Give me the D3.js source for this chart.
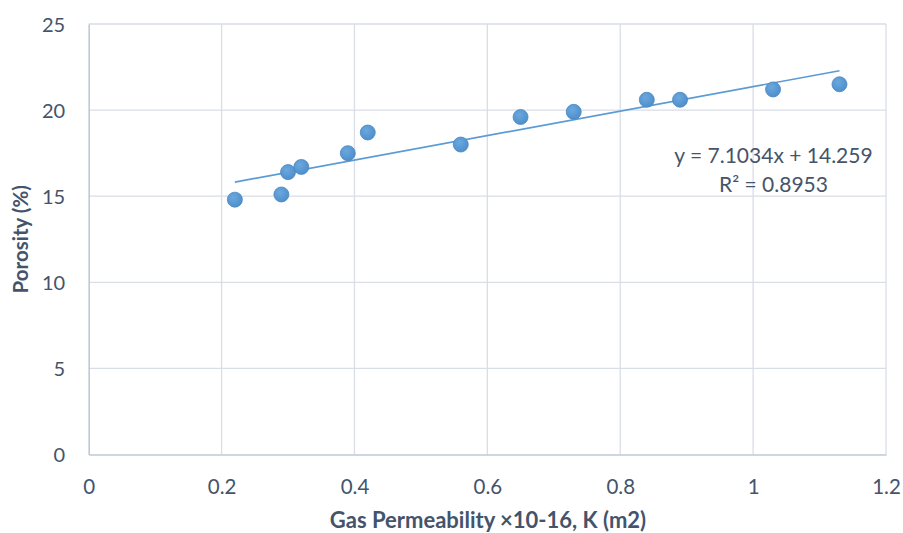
<!DOCTYPE html>
<html>
<head>
<meta charset="utf-8">
<script src="https://cdn.jsdelivr.net/npm/d3@7"></script>
<style>
  html, body { margin: 0; padding: 0; background: #fff; }
  svg { display: block; font-family: Lato, "Open Sans", sans-serif; }
</style>
</head>
<body>
<svg id="chart" width="903" height="533"></svg>
<script>
// Gas permeability (×10^-16 m²) versus porosity (%) for the core samples
const permeability = [0.22, 0.29, 0.30, 0.32, 0.39, 0.42, 0.56, 0.65, 0.73, 0.84, 0.89, 1.03, 1.13];
const porosity     = [14.8, 15.1, 16.4, 16.7, 17.5, 18.7, 18.0, 19.6, 19.9, 20.6, 20.6, 21.2, 21.5];

// Linear trendline as reported on the chart
const slope = 7.1034;
const intercept = 14.259;
const rSquared = 0.8953;

const xTicks = [0, 0.2, 0.4, 0.6, 0.8, 1, 1.2];
const yTicks = [0, 5, 10, 15, 20, 25];

const xTitle = "Gas Permeability ×10-16, K (m2)";
const yTitle = "Porosity (%)";

const svg = d3.select("#chart");
const margin = { left: 88.7, right: 17, top: 24, bottom: 78.5 };
const W = 903, H = 533;

const x = d3.scaleLinear().domain([0, 1.2]).range([margin.left, W - margin.right]);
const y = d3.scaleLinear().domain([0, 25]).range([H - margin.bottom, margin.top]);

const textColor = "#44546a";
const gridColor = "#d9dee6";
const axisColor = "#bfc8d6";
const markColor = "#5b9bd5";

// Gridlines
svg.append("g")
  .selectAll("line")
  .data(xTicks.slice(1))
  .join("line")
  .attr("x1", d => x(d)).attr("x2", d => x(d))
  .attr("y1", y(25)).attr("y2", y(0))
  .attr("stroke", gridColor).attr("stroke-width", 1.3);

svg.append("g")
  .selectAll("line")
  .data(yTicks.slice(1))
  .join("line")
  .attr("x1", x(0)).attr("x2", x(1.2))
  .attr("y1", d => y(d)).attr("y2", d => y(d))
  .attr("stroke", gridColor).attr("stroke-width", 1.3);

// Axes (no tick marks, just the baseline and labels)
const xAxis = d3.axisBottom(x).tickValues(xTicks).tickSize(0).tickFormat(d3.format("~g"));
const yAxis = d3.axisLeft(y).tickValues(yTicks).tickSize(0).tickFormat(d3.format("d"));

const gx = svg.append("g").attr("transform", `translate(0,${y(0)})`).call(xAxis);
gx.select(".domain").attr("stroke", axisColor).attr("stroke-width", 1.6);
gx.selectAll("text")
  .attr("dy", null).attr("y", 39)
  .attr("fill", textColor).attr("font-size", 20.5)
  .attr("font-family", "Lato, sans-serif");

const gy = svg.append("g").attr("transform", `translate(${x(0)},0)`).call(yAxis);
gy.select(".domain").attr("stroke", axisColor).attr("stroke-width", 1.6);
gy.selectAll("text")
  .attr("x", -23.5).attr("dy", "0.36em")
  .attr("fill", textColor).attr("font-size", 20)
  .attr("font-family", "Lato, sans-serif");

// Trendline across the measured range
const xMin = d3.min(permeability), xMax = d3.max(permeability);
svg.append("line")
  .attr("x1", x(xMin)).attr("y1", y(slope * xMin + intercept))
  .attr("x2", x(xMax)).attr("y2", y(slope * xMax + intercept))
  .attr("stroke", markColor).attr("stroke-width", 1.7);

// Markers with soft shading
const defs = svg.append("defs");
const grad = defs.append("radialGradient").attr("id", "dot").attr("cx", "40%").attr("cy", "35%").attr("r", "65%");
grad.append("stop").attr("offset", "0%").attr("stop-color", "#6aa8df");
grad.append("stop").attr("offset", "100%").attr("stop-color", "#4f8fcb");

svg.append("g")
  .selectAll("circle")
  .data(permeability.map((k, i) => ({ k, p: porosity[i] })))
  .join("circle")
  .attr("cx", d => x(d.k))
  .attr("cy", d => y(d.p))
  .attr("r", 7.5)
  .attr("fill", "url(#dot)")
  .attr("stroke", "#4a86bf")
  .attr("stroke-width", 0.8);

// Trendline equation
const eq = svg.append("text")
  .attr("x", 773.5).attr("y", 163)
  .attr("text-anchor", "middle")
  .attr("fill", textColor).attr("font-size", 21);
eq.append("tspan").attr("x", 773.5).text(`y = ${slope}x + ${intercept}`);
eq.append("tspan").attr("x", 773.5).attr("dy", 29).text(`R² = ${rSquared}`);

// Axis titles
svg.append("text")
  .attr("x", 488).attr("y", 527.5)
  .attr("text-anchor", "middle")
  .attr("fill", textColor).attr("font-size", 22).attr("font-weight", "bold")
  .text(xTitle);

svg.append("text")
  .attr("transform", `translate(27.5,${y(12.5)}) rotate(-90)`)
  .attr("text-anchor", "middle")
  .attr("fill", textColor).attr("font-size", 20.5).attr("font-weight", "bold")
  .text(yTitle);
</script>
</body>
</html>
